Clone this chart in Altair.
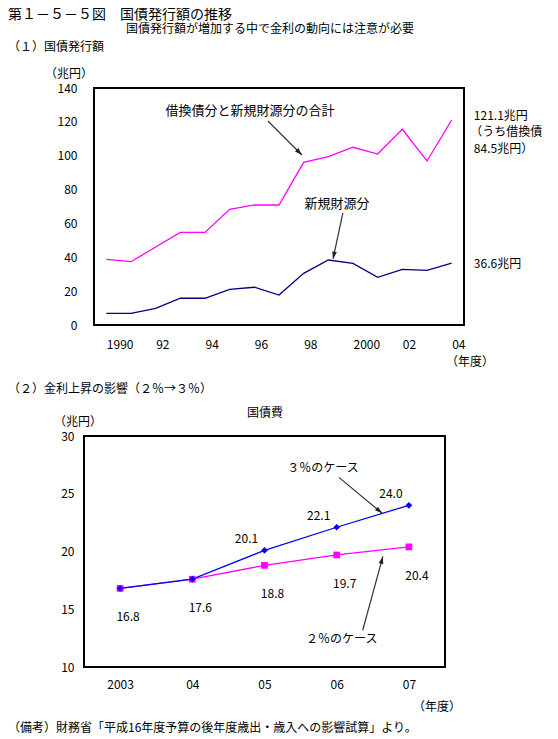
import math
import altair as alt
import pandas as pd

FONT = "Noto Sans CJK JP"

# ---------------- data: (1) 国債発行額 ----------------
YEARS_TOP = list(range(1990, 2005))
TOTAL_ISSUE = [38.8, 37.4, 46.1, 54.7, 54.7, 68.3, 70.9, 70.9, 96.1, 99.4,
               105.0, 101.0, 115.6, 96.9, 121.1]
NEW_ISSUE = [6.9, 6.9, 9.8, 15.8, 15.8, 21.1, 22.3, 17.7, 30.5, 38.4,
             36.4, 28.2, 32.9, 32.3, 36.6]
TOP_X_TICKS = [1990, 1992, 1994, 1996, 1998, 2000, 2002, 2004]
TOP_X_LABELS = ["1990", "92", "94", "96", "98", "2000", "02", "04"]
TOP_Y_TICKS = [0, 20, 40, 60, 80, 100, 120, 140]

TOP_NOTE_TEXT = ["借換債分と新規財源分の合計", "新規財源分"]
TOP_NOTE_X = [1995.82, 1999.35]
TOP_NOTE_Y = [126.4, 71.5]
TOP_SIDE_TEXT = ["121.1兆円", "（うち借換債", "84.5兆円）", "36.6兆円"]
TOP_SIDE_X = [2004.9, 2004.75, 2004.9, 2004.9]
TOP_SIDE_Y = [123.3, 114.0, 104.2, 36.0]
TOP_ARROW_X1 = [1996.55, 1999.59]
TOP_ARROW_Y1 = [120.5, 66.2]
TOP_ARROW_X2 = [1997.93, 1999.19]
TOP_ARROW_Y2 = [100.4, 39.0]

# ---------------- data: (2) 金利上昇の影響 ----------------
YEARS_BOT = [2003, 2004, 2005, 2006, 2007]
CASE_2 = [16.8, 17.6, 18.8, 19.7, 20.4]
CASE_3 = [16.8, 17.6, 20.1, 22.1, 24.0]
BOT_X_LABELS = ["2003", "04", "05", "06", "07"]
BOT_Y_TICKS = [10, 15, 20, 25, 30]

BOT_NOTE_TEXT = ["３％のケース", "２％のケース"]
BOT_NOTE_X = [2005.81, 2006.07]
BOT_NOTE_Y = [27.2, 12.4]
BOT_ARROW_X1 = [2006.03, 2006.36]
BOT_ARROW_Y1 = [26.42, 13.18]
BOT_ARROW_X2 = [2006.63, 2006.64]
BOT_ARROW_Y2 = [23.31, 19.58]

# ---------------- layout ----------------
TOP_INSET = 10                  # top frame starts 10px right of the bottom frame
TOP_W, TOP_H = 370, 237
TOP_XDOM = [1989.5, 2004.5]
TOP_YDOM = [0, 140]
BOT_W, BOT_H = 361, 231
BOT_XDOM = [2002.5, 2007.5]
BOT_YDOM = [10, 30]

ARROW_PATH = "M0,0L-0.32,1L0.32,1Z"


def label_expr(ticks, labels):
    parts = [f"datum.value == {t} ? '{l}'" for t, l in zip(ticks, labels)]
    return " : ".join(parts) + " : ''"


def arrow_angles(x1, y1, x2, y2, w, h, xdom, ydom):
    kx = w / (xdom[1] - xdom[0])
    ky = h / (ydom[1] - ydom[0])
    out = []
    for a, b, c, d in zip(x1, y1, x2, y2):
        dx = (c - a) * kx
        dy = -(d - b) * ky
        out.append(math.degrees(math.atan2(dx, -dy)) % 360)
    return out


def text_at(s, px, py, size=12, align="left"):
    return alt.Chart(pd.DataFrame({"t": [s]})).mark_text(
        text=s, font=FONT, fontSize=size, align=align, baseline="middle",
        color="black"
    ).encode(x=alt.value(px), y=alt.value(py))


def frame(x0, x1, h):
    return alt.Chart(pd.DataFrame({"f": [0]})).mark_rect(
        fill="transparent", stroke="black", strokeWidth=2
    ).encode(x=alt.value(x0), x2=alt.value(x1), y=alt.value(0), y2=alt.value(h))


# ================= top panel =================
top_df = pd.DataFrame({
    "year": YEARS_TOP * 2,
    "value": TOTAL_ISSUE + NEW_ISSUE,
    "series": ["合計"] * len(YEARS_TOP) + ["新規財源分"] * len(YEARS_TOP),
})

tx_scale = alt.Scale(domain=TOP_XDOM, nice=False, zero=False,
                     range=[TOP_INSET, TOP_INSET + TOP_W])
ty_scale = alt.Scale(domain=TOP_YDOM, nice=False)
tx_axis = alt.Axis(
    values=TOP_X_TICKS, labelExpr=label_expr(TOP_X_TICKS, TOP_X_LABELS),
    domain=False, ticks=False, grid=False, labelAlign="left",
    labelPadding=14, labelFontSize=12, labelFont=FONT, labelColor="black")
ty_axis = alt.Axis(
    values=TOP_Y_TICKS, domain=False, ticks=False, grid=False,
    labelPadding=7, labelFontSize=12, labelFont=FONT, labelColor="black")


def TX(f):
    return alt.X(f, scale=tx_scale, axis=tx_axis, title=None)


def TY(f):
    return alt.Y(f, scale=ty_scale, axis=ty_axis, title=None)


top_lines = alt.Chart(top_df).mark_line(strokeWidth=1.3).encode(
    x=TX("year:Q"), y=TY("value:Q"),
    color=alt.Color("series:N", legend=None, scale=alt.Scale(
        domain=["合計", "新規財源分"], range=["#FF00FF", "#000080"])),
)

top_notes_df = pd.DataFrame({"year": TOP_NOTE_X, "value": TOP_NOTE_Y, "t": TOP_NOTE_TEXT})
top_notes = alt.Chart(top_notes_df).mark_text(
    font=FONT, fontSize=13, align="center", baseline="middle", color="black"
).encode(x=TX("year:Q"), y=TY("value:Q"), text="t:N")

top_side_df = pd.DataFrame({"year": TOP_SIDE_X, "value": TOP_SIDE_Y, "t": TOP_SIDE_TEXT})
top_side = alt.Chart(top_side_df).mark_text(
    font=FONT, fontSize=12, align="left", baseline="middle", color="black"
).encode(x=TX("year:Q"), y=TY("value:Q"), text="t:N")

top_arrow_df = pd.DataFrame({
    "year": TOP_ARROW_X1, "value": TOP_ARROW_Y1, "x2": TOP_ARROW_X2, "y2": TOP_ARROW_Y2,
    "ang": arrow_angles(TOP_ARROW_X1, TOP_ARROW_Y1, TOP_ARROW_X2, TOP_ARROW_Y2,
                        TOP_W, TOP_H, TOP_XDOM, TOP_YDOM),
})
top_arrow_line = alt.Chart(top_arrow_df).mark_rule(color="#333333", strokeWidth=1.2).encode(
    x=TX("year:Q"), y=TY("value:Q"), x2="x2:Q", y2="y2:Q")
top_arrow_head = alt.Chart(top_arrow_df).mark_point(
    shape=ARROW_PATH, filled=True, size=220, color="#222222", opacity=1
).encode(x=TX("x2:Q"), y=TY("y2:Q"), angle=alt.Angle("ang:Q", scale=None))

top = alt.layer(
    frame(TOP_INSET, TOP_INSET + TOP_W, TOP_H),
    top_lines, top_notes, top_side, top_arrow_line, top_arrow_head,
    text_at("第１－５－５図　国債発行額の推移", -76, -73, size=14),
    text_at("国債発行額が増加する中で金利の動向には注意が必要", 186, -59, size=12, align="center"),
    text_at("（１）国債発行額", -76, -41, size=12),
    text_at("（兆円）", -15, -14, size=12, align="center"),
    text_at("（年度）", 386, 274, size=12, align="center"),
).properties(width=TOP_INSET + TOP_W, height=TOP_H)

# ================= bottom panel =================
bot_df = pd.DataFrame({
    "year": YEARS_BOT * 2,
    "value": CASE_2 + CASE_3,
    "case": ["2%"] * len(YEARS_BOT) + ["3%"] * len(YEARS_BOT),
})

bx_scale = alt.Scale(domain=BOT_XDOM, nice=False, zero=False)
by_scale = alt.Scale(domain=BOT_YDOM, nice=False, zero=False)
bx_axis = alt.Axis(
    values=YEARS_BOT, labelExpr=label_expr(YEARS_BOT, BOT_X_LABELS),
    domain=False, ticks=False, grid=False, labelPadding=12, labelFontSize=12,
    labelFont=FONT, labelColor="black")
by_axis = alt.Axis(
    values=BOT_Y_TICKS, domain=False, ticks=False, grid=False,
    labelPadding=10, labelFontSize=12, labelFont=FONT, labelColor="black")


def BX(f):
    return alt.X(f, scale=bx_scale, axis=bx_axis, title=None)


def BY(f):
    return alt.Y(f, scale=by_scale, axis=by_axis, title=None)


case_color = alt.Color("case:N", legend=None, scale=alt.Scale(
    domain=["2%", "3%"], range=["#FF00FF", "#0000FF"]))
case_shape = alt.Shape("case:N", legend=None, scale=alt.Scale(
    domain=["2%", "3%"], range=["square", "diamond"]))

bot_lines = alt.Chart(bot_df).mark_line(strokeWidth=1.3).encode(
    x=BX("year:Q"), y=BY("value:Q"), color=case_color)
bot_points = alt.Chart(bot_df).mark_point(filled=True, size=45, opacity=1).encode(
    x=BX("year:Q"), y=BY("value:Q"), color=case_color, shape=case_shape)

bot_lab2 = alt.Chart(bot_df).transform_filter(alt.datum.case == "2%").mark_text(
    font=FONT, fontSize=12, dx=8, dy=29, color="black"
).encode(x=BX("year:Q"), y=BY("value:Q"), text=alt.Text("value:Q", format=".1f"))
bot_lab3 = alt.Chart(bot_df).transform_filter(
    (alt.datum.case == "3%") & (alt.datum.year >= 2005)
).mark_text(font=FONT, fontSize=12, dx=-18, dy=-11, color="black").encode(
    x=BX("year:Q"), y=BY("value:Q"), text=alt.Text("value:Q", format=".1f"))

bot_notes_df = pd.DataFrame({"year": BOT_NOTE_X, "value": BOT_NOTE_Y, "t": BOT_NOTE_TEXT})
bot_notes = alt.Chart(bot_notes_df).mark_text(
    font=FONT, fontSize=12, align="center", baseline="middle", color="black"
).encode(x=BX("year:Q"), y=BY("value:Q"), text="t:N")

bot_arrow_df = pd.DataFrame({
    "year": BOT_ARROW_X1, "value": BOT_ARROW_Y1, "x2": BOT_ARROW_X2, "y2": BOT_ARROW_Y2,
    "ang": arrow_angles(BOT_ARROW_X1, BOT_ARROW_Y1, BOT_ARROW_X2, BOT_ARROW_Y2,
                        BOT_W, BOT_H, BOT_XDOM, BOT_YDOM),
})
bot_arrow_line = alt.Chart(bot_arrow_df).mark_rule(color="#333333", strokeWidth=1.2).encode(
    x=BX("year:Q"), y=BY("value:Q"), x2="x2:Q", y2="y2:Q")
bot_arrow_head = alt.Chart(bot_arrow_df).mark_point(
    shape=ARROW_PATH, filled=True, size=220, color="#222222", opacity=1
).encode(x=BX("x2:Q"), y=BY("y2:Q"), angle=alt.Angle("ang:Q", scale=None))

bottom = alt.layer(
    frame(0, BOT_W, BOT_H),
    bot_lines, bot_points, bot_lab2, bot_lab3, bot_notes, bot_arrow_line, bot_arrow_head,
    text_at("（２）金利上昇の影響（２％→３％）", -76, -47, size=12),
    text_at("国債費", 181, -23, size=12, align="center"),
    text_at("（兆円）", -6, -14, size=12, align="center"),
    text_at("（年度）", 353, 271, size=12, align="center"),
    text_at("（備考）財務省「平成16年度予算の後年度歳出・歳入への影響試算」より。", -76, 292, size=12),
).properties(width=BOT_W, height=BOT_H)

chart = alt.vconcat(top, bottom, spacing=15).properties(
    padding=0, background="white"
).resolve_scale(
    color="independent", shape="independent"
).configure_view(strokeWidth=0)

chart.save("out.html", embed_options={"renderer": "svg", "actions": False})
